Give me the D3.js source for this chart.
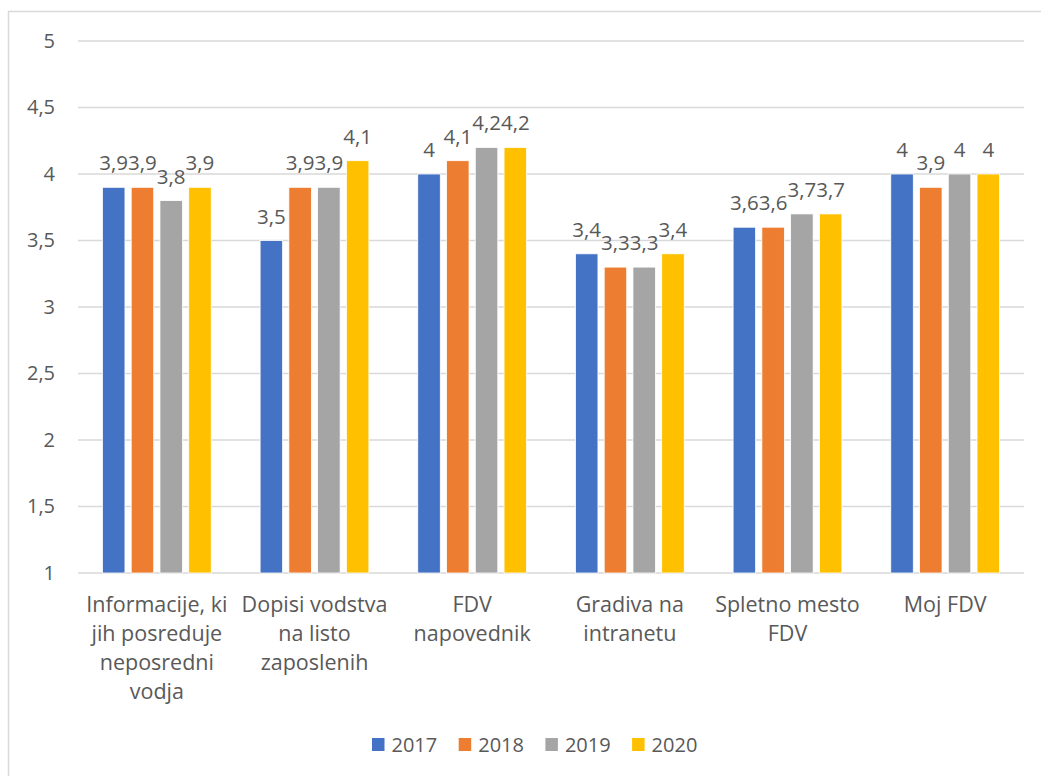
<!DOCTYPE html>
<html>
<head>
<meta charset="utf-8">
<script src="https://cdn.jsdelivr.net/npm/d3@7"></script>
<style>
  html, body { margin: 0; padding: 0; background: #fff; }
  svg { display: block; }
  text { font-family: "Open Sans", "Noto Sans", sans-serif; fill: #595959; }
</style>
</head>
<body>
<svg id="chart" width="1041" height="776"></svg>
<script>
// Category names, with the line breaks used under the axis
const categories = [
  "Informacije, ki jih posreduje neposredni vodja",
  "Dopisi vodstva na listo zaposlenih",
  "FDV napovednik",
  "Gradiva na intranetu",
  "Spletno mesto FDV",
  "Moj FDV"
];
const categoryLines = [
  ["Informacije, ki", "jih posreduje", "neposredni", "vodja"],
  ["Dopisi vodstva", "na listo", "zaposlenih"],
  ["FDV", "napovednik"],
  ["Gradiva na", "intranetu"],
  ["Spletno mesto", "FDV"],
  ["Moj FDV"]
];

// Series (one value per category)
const years = ["2017", "2018", "2019", "2020"];
const values2017 = [3.9, 3.5, 4.0, 3.4, 3.6, 4.0];
const values2018 = [3.9, 3.9, 4.1, 3.3, 3.6, 3.9];
const values2019 = [3.8, 3.9, 4.2, 3.3, 3.7, 4.0];
const values2020 = [3.9, 4.1, 4.2, 3.4, 3.7, 4.0];
const seriesValues = [values2017, values2018, values2019, values2020];
const seriesColors = ["#4472C4", "#ED7D31", "#A5A5A5", "#FFC000"];

// Value axis ticks
const yTicks = [1, 1.5, 2, 2.5, 3, 3.5, 4, 4.5, 5];

const fmt = v => String(v).replace(".", ",");

const svg = d3.select("#chart");

// Chart frame
svg.append("rect")
  .attr("x", 8.5).attr("y", 11.5)
  .attr("width", 1100).attr("height", 900)
  .attr("fill", "#fff")
  .attr("stroke", "#d9d9d9").attr("stroke-width", 1.5);

const plot = { left: 78, right: 1024, top: 41, bottom: 573 };

const y = d3.scaleLinear().domain([1, 5]).range([plot.bottom, plot.top]);
const x = d3.scaleBand().domain(categories)
  .range([plot.left, plot.right])
  .paddingInner(0.31).paddingOuter(0.155);
const xs = d3.scaleBand().domain(years)
  .range([0, x.bandwidth()])
  .paddingInner(0.217);

// Gridlines
svg.append("g").selectAll("line").data(yTicks).join("line")
  .attr("x1", plot.left).attr("x2", plot.right)
  .attr("y1", d => y(d)).attr("y2", d => y(d))
  .attr("stroke", "#d9d9d9").attr("stroke-width", 1.3);

// Value axis labels
const yAxis = d3.axisLeft(y).tickValues(yTicks).tickFormat(fmt).tickSize(0).tickPadding(0);
const yg = svg.append("g").attr("transform", `translate(55,0)`).call(yAxis);
yg.select(".domain").remove();
yg.selectAll("text")
  .attr("font-size", 20)
  .attr("font-family", "Open Sans, Noto Sans, sans-serif")
  .attr("fill", "#595959");

// Bars
const groups = svg.append("g").selectAll("g").data(years).join("g");
groups.each(function(yr, si) {
  const g = d3.select(this);
  const vals = seriesValues[si];
  g.selectAll("rect").data(vals).join("rect")
    .attr("x", (d, i) => x(categories[i]) + xs(yr))
    .attr("width", xs.bandwidth())
    .attr("y", d => y(d))
    .attr("height", d => y(1) - y(d))
    .attr("fill", seriesColors[si])
    .attr("stroke", "#fff").attr("stroke-width", 0.8);
  g.selectAll("text").data(vals).join("text")
    .attr("x", (d, i) => x(categories[i]) + xs(yr) + xs.bandwidth() / 2)
    .attr("y", d => y(d) - 17)
    .attr("text-anchor", "middle")
    .attr("font-size", 20.5)
    .text(fmt);
});

// Category labels
const cat = svg.append("g").selectAll("text").data(categories).join("text")
  .attr("text-anchor", "middle")
  .attr("font-size", 21.5)
  .attr("x", d => x(d) + x.bandwidth() / 2)
  .attr("y", 612);
cat.each(function(d, i) {
  d3.select(this).selectAll("tspan").data(categoryLines[i]).join("tspan")
    .attr("x", x(d) + x.bandwidth() / 2)
    .attr("dy", (t, j) => j === 0 ? 0 : 29)
    .text(t => t);
});

// Legend
const legendX = 372, legendStep = 86.7;
const leg = svg.append("g").selectAll("g").data(years).join("g")
  .attr("transform", (d, i) => `translate(${legendX + i * legendStep},738)`);
leg.append("rect").attr("width", 12.5).attr("height", 13)
  .attr("fill", (d, i) => seriesColors[i]);
leg.append("text").attr("x", 19.5).attr("y", 14)
  .attr("font-size", 20).text(d => d);
</script>
</body>
</html>
